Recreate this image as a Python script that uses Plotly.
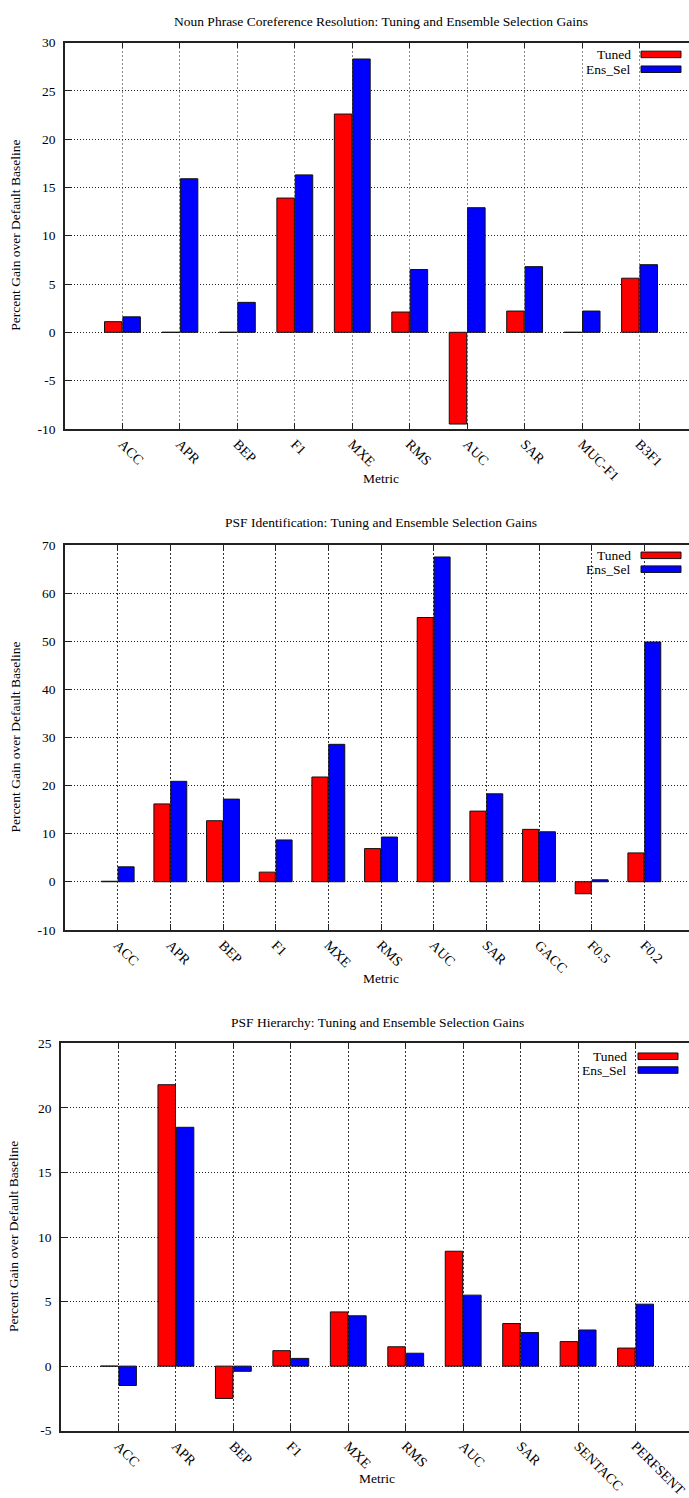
import plotly.graph_objects as go

W, H = 689, 1498

# ---- data -------------------------------------------------------------
coref_metrics = ["ACC", "APR", "BEP", "F1", "MXE", "RMS", "AUC", "SAR", "MUC-F1", "B3F1"]
coref_tuned = [1.1, 0.0, 0.0, 13.9, 22.6, 2.1, -9.5, 2.2, 0.0, 5.6]
coref_ens_sel = [1.6, 15.9, 3.1, 16.3, 28.3, 6.5, 12.9, 6.8, 2.2, 7.0]
coref_yticks = [-10, -5, 0, 5, 10, 15, 20, 25, 30]

psf_id_metrics = ["ACC", "APR", "BEP", "F1", "MXE", "RMS", "AUC", "SAR", "GACC", "F0.5", "F0.2"]
psf_id_tuned = [0.1, 16.2, 12.7, 2.0, 21.8, 6.9, 55.0, 14.7, 10.9, -2.5, 6.0]
psf_id_ens_sel = [3.1, 20.9, 17.2, 8.7, 28.6, 9.3, 67.6, 18.3, 10.4, 0.4, 49.9]
psf_id_yticks = [-10, 0, 10, 20, 30, 40, 50, 60, 70]

psf_h_metrics = ["ACC", "APR", "BEP", "F1", "MXE", "RMS", "AUC", "SAR", "SENTACC", "PERFSENT"]
psf_h_tuned = [0.0, 21.8, -2.5, 1.2, 4.2, 1.5, 8.9, 3.3, 1.9, 1.4]
psf_h_ens_sel = [-1.5, 18.5, -0.4, 0.6, 3.9, 1.0, 5.5, 2.6, 2.8, 4.8]
psf_h_yticks = [-5, 0, 5, 10, 15, 20, 25]

series_names = ["Tuned", "Ens_Sel"]
series_colors = ["#ff0000", "#0000ff"]

# ---- panel geometry (pixels) -----------------------------------------
panels = [
    dict(title="Noun Phrase Coreference Resolution: Tuning and Ensemble Selection Gains",
         cats=coref_metrics, vals=[coref_tuned, coref_ens_sel], yticks=coref_yticks,
         left=65, top=36, bottom=427,
         title_y=15, xtitle_y=477, ytitle_x=16, legend_y=[48, 63],
         xgrid="#8a8a8a"),
    dict(title="PSF Identification: Tuning and Ensemble Selection Gains",
         cats=psf_id_metrics, vals=[psf_id_tuned, psf_id_ens_sel], yticks=psf_id_yticks,
         left=65, top=545, bottom=934,
         title_y=522, xtitle_y=983, ytitle_x=16, legend_y=[555, 569],
         xgrid="#333333"),
    dict(title="PSF Hierarchy: Tuning and Ensemble Selection Gains",
         cats=psf_h_metrics, vals=[psf_h_tuned, psf_h_ens_sel], yticks=psf_h_yticks,
         left=61, top=1049, bottom=1441,
         title_y=1028, xtitle_y=1489, ytitle_x=13, legend_y=[1062, 1076],
         xgrid="#333333"),
]
PLOT_W = 632  # full width of each plotting frame

FONT = "Liberation Serif"


def px(x):
    return x / W


def py(y):
    return 1 - y / H


fig = go.Figure()
annotations = []
shapes = []

for i, p in enumerate(panels, start=1):
    xa = "x" if i == 1 else f"x{i}"
    ya = "y" if i == 1 else f"y{i}"
    n = len(p["cats"])
    for name, color, vals in zip(series_names, series_colors, p["vals"]):
        fig.add_trace(go.Bar(
            x=p["cats"], y=vals, name=name, xaxis=xa, yaxis=ya,
            marker=dict(color=color, line=dict(color="#111111", width=1)),
            showlegend=False,
        ))

    xr_max = -1 + (W - p["left"]) / PLOT_W * (n + 1)
    fig.layout[f"xaxis{'' if i == 1 else i}"] = dict(
        type="category", categoryorder="array", categoryarray=p["cats"],
        domain=[px(p["left"]), 1], anchor=ya, range=[-1, xr_max],
        showline=True, linecolor="#222222", linewidth=1.5, mirror="ticks",
        ticks="inside", ticklen=6, tickcolor="#222222",
        tickangle=45, tickfont=dict(family=FONT, size=14, color="#000"),
        showgrid=True, gridcolor=p["xgrid"], gridwidth=1, griddash="2px,2px",
        fixedrange=True,
    )
    yt = p["yticks"]
    fig.layout[f"yaxis{'' if i == 1 else i}"] = dict(
        domain=[py(p["bottom"]), py(p["top"])], anchor=xa,
        range=[yt[0], yt[-1]], tickmode="array", tickvals=yt,
        ticktext=[str(v) for v in yt],
        showline=True, linecolor="#222222", linewidth=1.5,
        ticks="inside", ticklen=6, tickcolor="#222222", ticklabelstandoff=5,
        tickfont=dict(family=FONT, size=13.5, color="#000"),
        showgrid=True, gridcolor="#222222", gridwidth=1, griddash="1px,2px",
        zeroline=False, fixedrange=True,
    )

    center_x = px(p["left"] + PLOT_W / 2)
    # panel title
    annotations.append(dict(
        text=p["title"], x=center_x, y=py(p["title_y"]), xref="paper", yref="paper",
        xanchor="center", yanchor="middle", showarrow=False,
        font=dict(family=FONT, size=13.5, color="#000")))
    # x-axis title
    annotations.append(dict(
        text="Metric", x=center_x, y=py(p["xtitle_y"]), xref="paper", yref="paper",
        xanchor="center", yanchor="middle", showarrow=False,
        font=dict(family=FONT, size=13.5, color="#000")))
    # y-axis title
    annotations.append(dict(
        text="Percent Gain over Default Baseline", x=px(p["ytitle_x"]),
        y=py((p["top"] + p["bottom"]) / 2), xref="paper", yref="paper",
        xanchor="center", yanchor="middle", textangle=-90, showarrow=False,
        font=dict(family=FONT, size=13.5, color="#000")))

    # key in the upper-right corner: label, then colour swatch
    text_right = 633 if i < 3 else 629
    sw_x0 = 641 if i < 3 else 638
    for name, color, ly in zip(series_names, series_colors, p["legend_y"]):
        annotations.append(dict(
            text=name, x=px(text_right), y=py(ly), xref="paper", yref="paper",
            xanchor="right", yanchor="middle", showarrow=False,
            font=dict(family=FONT, size=13.5, color="#000")))
        shapes.append(dict(
            type="rect", xref="paper", yref="paper",
            x0=px(sw_x0), x1=px(sw_x0 + 40), y0=py(ly + 3.3), y1=py(ly - 3.3),
            fillcolor=color, line=dict(color="#111111", width=1)))

fig.update_layout(
    width=W, height=H,
    margin=dict(l=0, r=0, t=0, b=0),
    paper_bgcolor="white", plot_bgcolor="white",
    barmode="group", bargap=0.36, bargroupgap=0.05,
    annotations=annotations, shapes=shapes,
    showlegend=False,
)

fig.write_html("out.html")
